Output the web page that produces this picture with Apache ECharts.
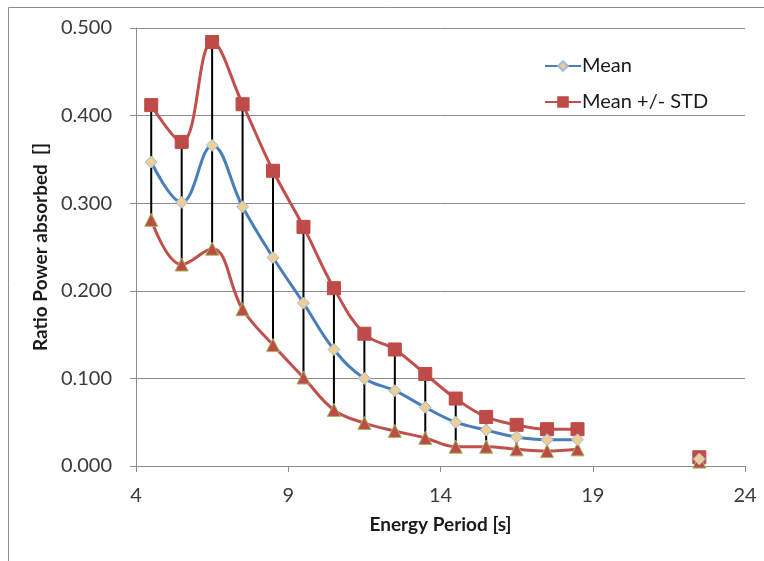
<!DOCTYPE html>
<html>
<head>
<meta charset="utf-8">
<script src="https://cdn.jsdelivr.net/npm/echarts@6/dist/echarts.min.js"></script>
<style>
  html, body { margin: 0; padding: 0; background: #fff; }
  #chart { width: 764px; height: 561px; }
</style>
</head>
<body>
<div id="chart"></div>
<script>
// Energy period (s) of each sea state; 19.5–21.5 have no results
const periods = [4.5, 5.5, 6.5, 7.5, 8.5, 9.5, 10.5, 11.5, 12.5, 13.5, 14.5, 15.5, 16.5, 17.5, 18.5, 19.5, 20.5, 21.5, 22.5];
const meanRatio = [0.347, 0.301, 0.366, 0.296, 0.238, 0.186, 0.133, 0.100, 0.086, 0.067, 0.050, 0.041, 0.033, 0.030, 0.030, null, null, null, 0.008];
const upperRatio = [0.412, 0.370, 0.484, 0.413, 0.337, 0.273, 0.203, 0.151, 0.133, 0.105, 0.077, 0.056, 0.047, 0.042, 0.042, null, null, null, 0.010];
const lowerRatio = [0.281, 0.230, 0.248, 0.179, 0.138, 0.101, 0.064, 0.049, 0.040, 0.032, 0.022, 0.022, 0.019, 0.017, 0.019, null, null, null, 0.005];
const xTicks = { min: 4, max: 24, step: 5 };
const yTicks = { min: 0, max: 0.5, step: 0.1 };

const FONT = 'Lato, "Noto Sans", sans-serif';
const pairs = vals => periods.map((p, i) => [p, vals[i] == null ? '-' : vals[i]]);
const bars = periods
  .map((p, i) => [p, lowerRatio[i], upperRatio[i]])
  .filter(d => d[1] != null && d[2] != null);

const chart = echarts.init(document.getElementById('chart'), null, { renderer: 'canvas' });

chart.setOption({
  backgroundColor: '#fff',
  animation: false,
  graphic: [
    { type: 'line', shape: { x1: 8.5, y1: 7.5, x2: 764, y2: 7.5 }, style: { stroke: '#8c8c8c', lineWidth: 1 }, silent: true },
    { type: 'line', shape: { x1: 8.5, y1: 7.5, x2: 8.5, y2: 561 }, style: { stroke: '#8c8c8c', lineWidth: 1 }, silent: true }
  ],
  grid: { left: 136, right: 19, top: 28, bottom: 95 },
  legend: {
    data: ['Mean', 'Mean +/- STD'],
    orient: 'vertical',
    left: 539,
    top: 51,
    itemWidth: 36,
    itemHeight: 12,
    itemGap: 16,
    textStyle: { fontFamily: FONT, fontSize: 20, color: '#1a1a1a', padding: [0, 0, 0, -4] }
  },
  xAxis: {
    type: 'value',
    min: xTicks.min, max: xTicks.max, interval: xTicks.step,
    name: 'Energy Period [s]',
    nameLocation: 'middle',
    nameGap: 49,
    nameTextStyle: { fontFamily: FONT, fontSize: 19, fontWeight: 'bold', color: '#1a1a1a' },
    axisLine: { lineStyle: { color: '#8c8c8c', width: 1 } },
    axisTick: { show: true, length: 6, lineStyle: { color: '#8c8c8c' } },
    axisLabel: { fontFamily: FONT, fontSize: 20, color: '#3a3a3a', margin: 20 },
    splitLine: { show: false }
  },
  yAxis: {
    type: 'value',
    min: yTicks.min, max: yTicks.max, interval: yTicks.step,
    name: 'Ratio Power absorbed  []',
    nameLocation: 'middle',
    nameGap: 79,
    nameTextStyle: { fontFamily: FONT, fontSize: 19, fontWeight: 'bold', color: '#1a1a1a' },
    axisLine: { show: true, lineStyle: { color: '#8c8c8c', width: 1 } },
    axisTick: { show: true, length: 6, lineStyle: { color: '#8c8c8c' } },
    axisLabel: { fontFamily: FONT, fontSize: 20, color: '#3a3a3a', margin: 24, formatter: v => v.toFixed(3) },
    splitLine: { lineStyle: { color: '#8c8c8c', width: 1 } }
  },
  series: [
    {
      // vertical bars spanning mean - STD .. mean + STD
      name: 'range',
      type: 'custom',
      z: 1,
      data: bars,
      renderItem: (params, api) => {
        const lo = api.coord([api.value(0), api.value(1)]);
        const hi = api.coord([api.value(0), api.value(2)]);
        return {
          type: 'line',
          shape: { x1: lo[0], y1: lo[1], x2: hi[0], y2: hi[1] },
          style: { stroke: '#000', lineWidth: 2 }
        };
      },
      encode: { x: 0, y: [1, 2] },
      silent: true
    },
    {
      name: 'Mean',
      type: 'line',
      z: 3,
      smooth: 0.4,
      connectNulls: false,
      data: pairs(meanRatio),
      symbol: 'diamond',
      symbolSize: 12,
      lineStyle: { color: '#4A7EBB', width: 3 },
      itemStyle: { color: '#EDCF94', borderColor: '#9DBBE0', borderWidth: 1 }
    },
    {
      name: 'Mean +/- STD',
      type: 'line',
      z: 2,
      smooth: 0.4,
      connectNulls: false,
      data: pairs(upperRatio),
      symbol: 'rect',
      symbolSize: 13,
      lineStyle: { color: '#C0504D', width: 3 },
      itemStyle: { color: '#BE4B48', borderColor: '#BE4B48', borderWidth: 1 }
    },
    {
      name: 'Mean - STD',
      type: 'line',
      z: 2,
      smooth: 0.4,
      connectNulls: false,
      data: pairs(lowerRatio),
      symbol: 'triangle',
      symbolSize: 13,
      lineStyle: { color: '#C0504D', width: 3 },
      itemStyle: { color: '#BE4B48', borderColor: '#9BBB59', borderWidth: 1 }
    }
  ]
});
</script>
</body>
</html>
